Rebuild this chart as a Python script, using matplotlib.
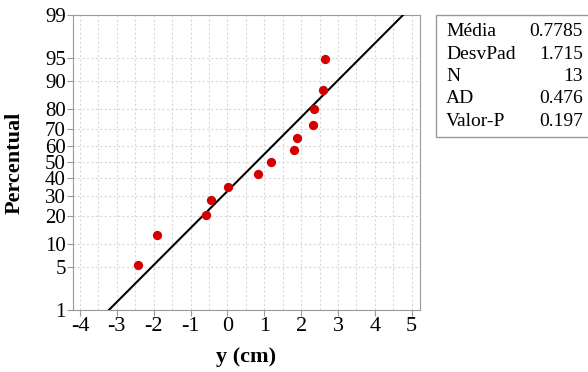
import numpy as np
import matplotlib
matplotlib.use('Agg')
import matplotlib.pyplot as plt
from matplotlib.patches import Rectangle
from statistics import NormalDist

# dados
y_cm = [-2.43, -1.91, -0.58, -0.44, 0.01, 0.84, 1.17, 1.81, 1.89, 2.32, 2.36, 2.58, 2.66]
media = 0.7785
desvpad = 1.715
n = 13
ad = 0.476
valor_p = 0.197

y_ticks = [1, 5, 10, 20, 30, 40, 50, 60, 70, 80, 90, 95, 99]
x_ticks = [-4, -3, -2, -1, 0, 1, 2, 3, 4, 5]

stat_labels = ['Média', 'DesvPad', 'N', 'AD', 'Valor-P']
stat_values = ['0.7785', '1.715', '13', '0.476', '0.197']

plt.rcParams['font.family'] = ['Liberation Serif', 'DejaVu Serif']
plt.rcParams['axes.unicode_minus'] = False

nd = NormalDist()
_ppf = np.vectorize(lambda v: nd.inv_cdf(v / 100.0), otypes=[float])
_cdf = np.vectorize(lambda v: nd.cdf(v) * 100.0, otypes=[float])


def fwd(p):
    p = np.clip(np.asarray(p, dtype=float), 1e-6, 100 - 1e-6)
    return _ppf(p)


def inv(z):
    return _cdf(np.asarray(z, dtype=float))


# posicoes de plotagem (mediana dos ranks)
i = np.arange(1, n + 1)
perc = (i - 0.3) / (n + 0.4) * 100

fig = plt.figure(figsize=(5.88, 3.72), dpi=100)
ax = fig.add_axes([0.124, 0.167, 0.590, 0.793])
ax.set_yscale('function', functions=(fwd, inv))

# reta ajustada
p_line = np.linspace(1, 99, 200)
x_line = [media + desvpad * nd.inv_cdf(p / 100) for p in p_line]
ax.plot(x_line, p_line, color='black', lw=1.5, zorder=3)

ax.scatter(sorted(y_cm), perc, color='#d40000', s=32, zorder=4)

ax.set_xlim(-4.19, 5.22)
ax.set_ylim(1, 99)
ax.set_yticks(y_ticks)
ax.set_yticklabels([str(t) for t in y_ticks])
ax.set_xticks(x_ticks)
ax.set_xticks(np.arange(-4, 5.01, 0.5), minor=True)
ax.yaxis.set_minor_locator(matplotlib.ticker.NullLocator())
ax.tick_params(labelsize=16, length=4, color='#999999', pad=1)
ax.tick_params(axis='y', labelsize=15)
ax.tick_params(axis='x', which='minor', length=0)

ax.grid(True, which='both', axis='x', color='#d8d8d8', ls=(0, (2, 2)), lw=0.8)
ax.grid(True, which='major', axis='y', color='#d8d8d8', ls=(0, (2, 2)), lw=0.8)
for s in ax.spines.values():
    s.set_color('#999999')

ax.set_xlabel('y (cm)', fontsize=16, fontweight='bold', labelpad=8)
ax.set_ylabel('Percentual', fontsize=16, fontweight='bold')
ax.yaxis.set_label_coords(-0.138, 0.5)

# caixa de estatisticas
fig.patches.append(Rectangle((436 / 588, 1 - 137 / 372), 155 / 588, 122 / 372,
                             transform=fig.transFigure, fill=False,
                             edgecolor='#999999', lw=1))
for k, (lab, val) in enumerate(zip(stat_labels, stat_values)):
    yy = 1 - (32 + k * 22.3) / 372
    fig.text(446 / 588, yy, lab, fontsize=14, va='center', ha='left')
    fig.text(583 / 588, yy, val, fontsize=14, va='center', ha='right')

fig.savefig('out.png', dpi=100)
